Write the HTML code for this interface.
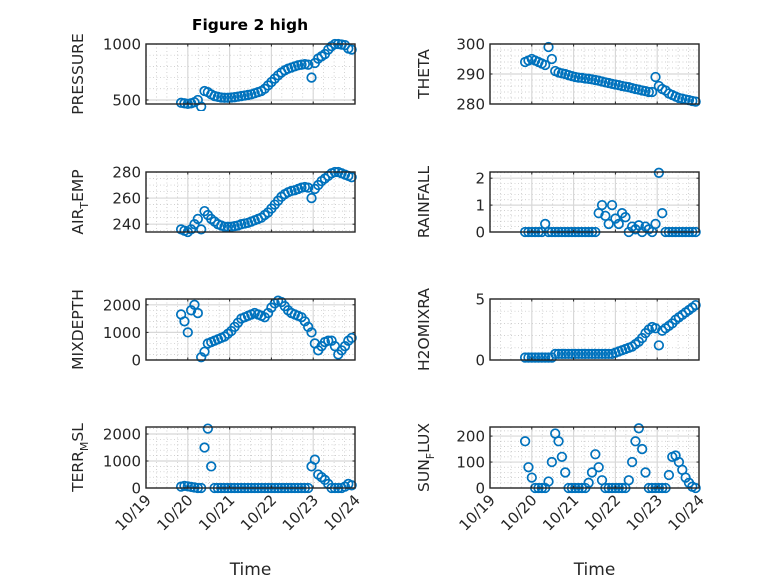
<!DOCTYPE html>
<html><head><meta charset="utf-8"><style>
body{margin:0;background:#fff;}
svg{display:block;font-family:"DejaVu Sans","Liberation Sans",sans-serif;}
</style></head><body>
<svg id="fig" width="778" height="583" viewBox="0 0 778 583"></svg>
<script>
const times=[19.84,19.92,20.00,20.08,20.16,20.24,20.32,20.40,20.48,20.56,20.64,20.72,20.80,20.88,20.96,21.04,21.12,21.20,21.28,21.36,21.44,21.52,21.60,21.68,21.76,21.84,21.92,22.00,22.08,22.16,22.24,22.32,22.40,22.48,22.56,22.64,22.72,22.80,22.88,22.96,23.04,23.12,23.20,23.28,23.36,23.44,23.52,23.60,23.68,23.76,23.84,23.92];
const xTickLabels=["10/19","10/20","10/21","10/22","10/23","10/24"];
const xTickDays=[19,20,21,22,23,24];
const pressure=[475,470,465,470,480,500,440,580,570,550,535,528,522,520,520,522,525,530,535,540,545,550,560,570,580,600,630,660,690,720,745,765,780,790,800,810,815,820,815,700,830,870,890,910,950,980,1000,1000,995,990,960,950];
const theta=[294,294.5,295,294.5,294,293.5,293,299,295,291,290.5,290.2,290,289.6,289.3,289,288.8,288.7,288.5,288.4,288.2,288,287.8,287.5,287.2,287,286.7,286.5,286.3,286,285.8,285.6,285.3,285,284.8,284.5,284.3,284,284,289,286,285,284.5,283.5,283,282.5,282,281.8,281.5,281.3,281,280.8];
const airTemp=[236,235,234,236,240,244,236,250,247,244,242,240,239,238,238,238,238.5,239,240,240.5,241,242,243,244,245,247,249,252,255,258,261,263,264.5,265.5,266,267,268,268.5,268,260,267,270,273,275,277,279,280,280,279,278,277,276];
const rainfall=[0,0,0,0,0,0,0.3,0,0,0,0,0,0,0,0,0,0,0,0,0,0,0,0.7,1.0,0.6,0.3,1.0,0.5,0.3,0.7,0.55,0,0.2,0.1,0.25,0,0.2,0.1,0,0.3,2.2,0.7,0,0,0,0,0,0,0,0,0,0];
const mixDepth=[1650,1400,1000,1800,2000,1700,100,300,600,650,700,750,800,850,950,1050,1200,1350,1500,1550,1600,1650,1700,1650,1600,1550,1700,1900,2050,2150,2100,1950,1800,1700,1650,1600,1550,1400,1200,1000,600,350,500,650,700,700,500,200,350,500,700,800];
const h2oMix=[0.2,0.2,0.2,0.2,0.2,0.2,0.2,0.2,0.2,0.5,0.5,0.5,0.5,0.5,0.5,0.5,0.5,0.5,0.5,0.5,0.5,0.5,0.5,0.5,0.5,0.5,0.5,0.6,0.7,0.8,0.9,1.0,1.1,1.3,1.5,1.8,2.2,2.5,2.7,2.6,1.2,2.4,2.6,2.8,3.0,3.3,3.5,3.7,3.9,4.1,4.3,4.5];
const terrMsl=[50,80,60,40,20,0,0,1500,2200,800,0,0,0,0,0,0,0,0,0,0,0,0,0,0,0,0,0,0,0,0,0,0,0,0,0,0,0,0,0,800,1050,500,400,300,150,0,0,0,0,50,150,100];
const sunFlux=[180,80,40,0,0,0,0,25,100,210,180,120,60,0,0,0,0,0,0,20,60,130,80,30,0,0,0,0,0,0,0,30,100,180,230,150,60,0,0,0,0,0,0,50,120,125,100,70,40,20,5,0];
const pressureTicks=[500,1000], thetaTicks=[280,290,300], airTicks=[240,260,280], rainTicks=[0,1,2], mixTicks=[0,1000,2000], h2oTicks=[0,5], terrTicks=[0,1000,2000], sunTicks=[0,100,200];

const NS="http://www.w3.org/2000/svg";
const svg=document.getElementById('fig');
function mk(tag,attrs,parent){const e=document.createElementNS(NS,tag);for(const k in attrs)e.setAttribute(k,attrs[k]);(parent||svg).appendChild(e);return e;}

const cols=[[146,355],[490,699]];
const rows=[[44,104],[172,232],[299,360],[427,488]];
const panels=[
 {name:"pressure",data:pressure,ticks:pressureTicks,ylim:[464,1000],minor:100,col:0,row:0,label:["PRESSURE"]},
 {name:"theta",data:theta,ticks:thetaTicks,ylim:[280,300],minor:2,col:1,row:0,label:["THETA"]},
 {name:"air-temp",data:airTemp,ticks:airTicks,ylim:[234,280],minor:5,col:0,row:1,label:["AIR","T","EMP"]},
 {name:"rainfall",data:rainfall,ticks:rainTicks,ylim:[0,2.23],minor:0.2,col:1,row:1,label:["RAINFALL"]},
 {name:"mixdepth",data:mixDepth,ticks:mixTicks,ylim:[0,2210],minor:200,col:0,row:2,label:["MIXDEPTH"]},
 {name:"h2omixra",data:h2oMix,ticks:h2oTicks,ylim:[0,5],minor:1,col:1,row:2,label:["H2OMIXRA"]},
 {name:"terr-msl",data:terrMsl,ticks:terrTicks,ylim:[0,2260],minor:200,col:0,row:3,label:["TERR","M","SL"]},
 {name:"sun-flux",data:sunFlux,ticks:sunTicks,ylim:[0,235],minor:20,col:1,row:3,label:["SUN","F","LUX"]}
];

panels.forEach(p=>{
 const [x0,x1]=cols[p.col],[y0,y1]=rows[p.row];
 const xs=d=>x0+(d-19)/5*(x1-x0);
 const ys=v=>y1-(v-p.ylim[0])/(p.ylim[1]-p.ylim[0])*(y1-y0);
 const g=mk('g',{});
 
 
 mk('rect',{x:x0,y:y0,width:x1-x0,height:y1-y0,fill:'#fff'},g);
 for(let d=19;d<=24.001;d+=0.25){const x=xs(d);mk('line',{x1:x,x2:x,y1:y0,y2:y1,stroke:'#c0c0c0','stroke-width':0.7,'stroke-dasharray':'1,2.5'},g);}
 for(let v=Math.ceil(p.ylim[0]/p.minor)*p.minor;v<=p.ylim[1];v+=p.minor){const y=ys(v);mk('line',{x1:x0,x2:x1,y1:y,y2:y,stroke:'#c0c0c0','stroke-width':0.7,'stroke-dasharray':'1,2.5'},g);}
 xTickDays.forEach(d=>{const x=xs(d);mk('line',{x1:x,x2:x,y1:y0,y2:y1,stroke:'#d8d8d8','stroke-width':1.2},g);});
 p.ticks.forEach(v=>{const y=ys(v);mk('line',{x1:x0,x2:x1,y1:y,y2:y,stroke:'#d8d8d8','stroke-width':1.2},g);});
 const clip='clip-'+p.name;
 const cp=mk('clipPath',{id:clip},g);mk('rect',{x:x0-7,y:y0-7,width:x1-x0+14,height:y1-y0+14},cp);
 const mg=mk('g',{'clip-path':`url(#${clip})`},g);
 
 
 p.data.forEach((v,i)=>{
  const c=mk('circle',{cx:xs(times[i]),cy:ys(v),r:4.3,fill:'none',stroke:'#0072BD','stroke-width':1.7},mg);
  
  
 });
 mk('rect',{x:x0,y:y0,width:x1-x0,height:y1-y0,fill:'none',stroke:'#262626','stroke-width':1.4},g);
 xTickDays.forEach(d=>{const x=xs(d);mk('line',{x1:x,x2:x,y1:y1,y2:y1-2.5,stroke:'#262626'},g);mk('line',{x1:x,x2:x,y1:y0,y2:y0+2.5,stroke:'#262626'},g);});
 p.ticks.forEach(v=>{const y=ys(v);mk('line',{x1:x0,x2:x0+2.5,y1:y,y2:y,stroke:'#262626'},g);mk('line',{x1:x1,x2:x1-2.5,y1:y,y2:y,stroke:'#262626'},g);
  const t=mk('text',{x:x0-5,y:y+5.5,'text-anchor':'end','font-size':15,fill:'#262626'},g);t.textContent=v;
  
  
 });
 const lx=p.col===0?83:429, ly=(y0+y1)/2;
 const yl=mk('text',{x:0,y:0,transform:`translate(${lx},${ly}) rotate(-90)`,'text-anchor':'middle','font-size':15.5,fill:'#262626'},g);
 
 
 if(p.label.length===1){yl.textContent=p.label[0];}
 else{const a=mk('tspan',{},yl);a.textContent=p.label[0];const b=mk('tspan',{'font-size':11,dy:5},yl);b.textContent=p.label[1];const c=mk('tspan',{dy:-5},yl);c.textContent=p.label[2];}
 if(p.row===3){
  xTickDays.forEach((d,i)=>{const x=xs(d);const t=mk('text',{x:0,y:0,transform:`translate(${x+6},${y1+13}) rotate(-45)`,'text-anchor':'end','font-size':15,fill:'#262626'},g);t.textContent=xTickLabels[i];
   
   });
  const xl=mk('text',{x:(x0+x1)/2,y:575,'text-anchor':'middle','font-size':17,fill:'#262626'},g);xl.textContent='Time';
  
  
 }
});
const title=mk('text',{x:250,y:30,'text-anchor':'middle','font-size':15.5,'font-weight':'bold',fill:'#000'});
title.textContent='Figure 2 high';


</script>
</body></html>
